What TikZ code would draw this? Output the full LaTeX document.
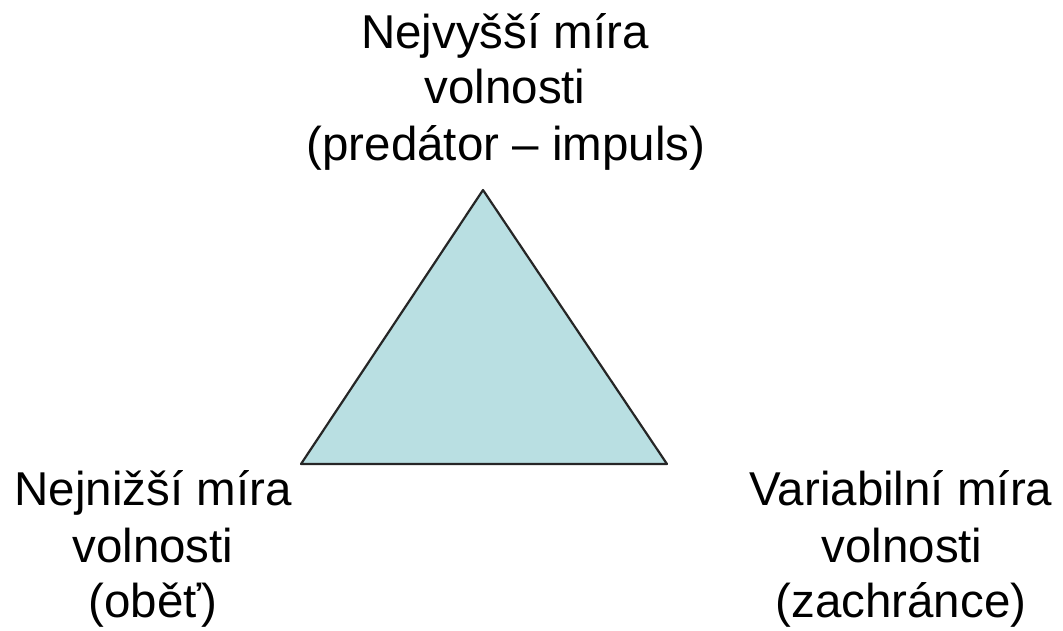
\documentclass[tikz,border=0pt]{standalone}
\usepackage{fontspec}
\setmainfont{Liberation Sans}
\begin{document}
\begin{tikzpicture}[x=1pt,y=-1pt,
  lbl/.style={anchor=base,inner sep=0pt,font=\fontsize{47.5}{56}\selectfont},
  tri/.style={draw=black!85,line width=2.2pt,fill=tealfill,line join=round}]
\definecolor{tealfill}{HTML}{B9DFE2}
\useasboundingbox (0,0) rectangle (1063,630);
\coordinate (apex) at (483,190);
\coordinate (bl) at (301,464);
\coordinate (br) at (667,464);
\draw[tri] (apex) -- (br) -- (bl) -- cycle;
% top label
\node[lbl] (t1) at (505,48) {Nejvyšší míra};
\node[lbl] (t2) at (505,103) {volnosti};
\node[lbl] (t3) at (506,160) {(predátor – impuls)};
% bottom-left label
\node[lbl] (l1) at (153,505) {Nejnižší míra};
\node[lbl] (l2) at (153,562) {volnosti};
\node[lbl] (l3) at (153,617) {(oběť)};
% bottom-right label
\node[lbl] (r1) at (901,505) {Variabilní míra};
\node[lbl] (r2) at (902,562) {volnosti};
\node[lbl] (r3) at (901,617) {(zachránce)};
\end{tikzpicture}
\end{document}
